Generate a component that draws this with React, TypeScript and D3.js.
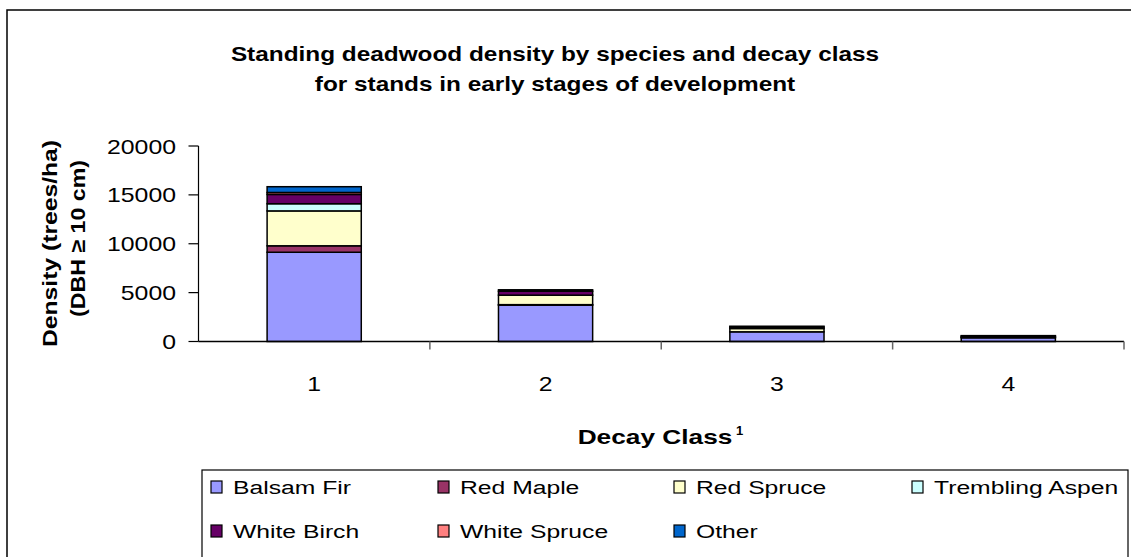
import React from "react";
import * as d3 from "d3";

const categories = ["1", "2", "3", "4"];
const species = ["Balsam Fir", "Red Maple", "Red Spruce", "Trembling Aspen", "White Birch", "White Spruce", "Other"];
const colors = ["#9999FF", "#993366", "#FFFFCC", "#CCFFFF", "#660066", "#FF8080", "#0066CC"];
const balsamFir = [9130, 3720, 990, 380];
const redMaple = [660, 50, 0, 0];
const redSpruce = [3570, 970, 340, 60];
const tremblingAspen = [735, 0, 0, 0];
const whiteBirch = [950, 400, 150, 100];
const whiteSpruce = [200, 0, 0, 0];
const other = [590, 150, 80, 60];
const yTicks = [0, 5000, 10000, 15000, 20000];

const seriesValues = [balsamFir, redMaple, redSpruce, tremblingAspen, whiteBirch, whiteSpruce, other];

export default function App() {
  const W = 1131, H = 557;
  const left = 198.5, right = 1124, top = 146, bottom = 341.5;
  const x = d3.scaleBand().domain(categories).range([left, right]).paddingInner(0.593).paddingOuter(0.2965);
  const y = d3.scaleLinear().domain([0, 20000]).range([bottom, top]);
  const rows = categories.map((c, i) => {
    const r: any = { cat: c };
    species.forEach((s, j) => (r[s] = seriesValues[j][i]));
    return r;
  });
  const stacked = d3.stack().keys(species)(rows);
  const font = "'Liberation Sans', Arial, sans-serif";
  const legendCols = [211, 438, 674, 912];
  const legendRows = [487, 531];
  return (
    <svg width={W} height={H} style={{ position: "absolute", left: 0, top: 0, background: "#fff" }} fontFamily={font}>
      <rect x={7} y={10} width={W} height={H} fill="#fff" stroke="#000" strokeWidth={1.5} />
      <g transform="translate(555,61) scale(1.16,1)">
        <text x={0} y={0} textAnchor="middle" fontWeight="bold" fontSize={21}>Standing deadwood density by species and decay class</text>
      </g>
      <g transform="translate(555,91) scale(1.16,1)">
        <text x={0} y={0} textAnchor="middle" fontWeight="bold" fontSize={21}>for stands in early stages of development</text>
      </g>
      {stacked.map((layer, j) => (
        <g key={j}>
          {layer.map((d, i) => {
            const h = y(d[0]) - y(d[1]);
            if (h <= 0) return null;
            return (
              <rect key={i} x={x(categories[i])} y={y(d[1])} width={x.bandwidth()} height={h}
                fill={colors[j]} stroke="#000" strokeWidth={1.5} />
            );
          })}
        </g>
      ))}
      <line x1={left} x2={left} y1={top} y2={bottom} stroke="#000" strokeWidth={1.2} />
      <line x1={left} x2={right} y1={bottom} y2={bottom} stroke="#000" strokeWidth={1.5} />
      {yTicks.map((t) => (
        <g key={t}>
          <line x1={left - 10} x2={left} y1={y(t)} y2={y(t)} stroke="#000" strokeWidth={1.2} />
          <text x={176} y={y(t)} dy="0.36em" textAnchor="end" fontSize={21}
            textLength={String(t).length * 13.8} lengthAdjust="spacingAndGlyphs">{t}</text>
        </g>
      ))}
      {categories.map((c, i) => (
        <g key={c}>
          <line x1={left + (i + 1) * x.step()} x2={left + (i + 1) * x.step()} y1={bottom} y2={bottom + 8} stroke="#666" strokeWidth={1.5} />
          <text x={(x(c) as number) + x.bandwidth() / 2} y={391} textAnchor="middle" fontSize={21} textLength={13.8} lengthAdjust="spacingAndGlyphs">{c}</text>
        </g>
      ))}
      <g transform="translate(655,444) scale(1.25,1)">
        <text x={0} y={0} textAnchor="middle" fontWeight="bold" fontSize={21}>Decay Class</text>
      </g>
      <text x={736} y={435} fontWeight="bold" fontSize={13}>1</text>
      <g transform="translate(57,243.5) rotate(-90)">
        <text x={0} y={0} textAnchor="middle" fontWeight="bold" fontSize={21} textLength={207} lengthAdjust="spacingAndGlyphs">Density (trees/ha)</text>
      </g>
      <g transform="translate(85,238.5) rotate(-90)">
        <text x={0} y={0} textAnchor="middle" fontWeight="bold" fontSize={21} textLength={157} lengthAdjust="spacingAndGlyphs">(DBH ≥ 10 cm)</text>
      </g>
      <rect x={202} y={470} width={926} height={120} fill="none" stroke="#000" strokeWidth={1.2} />
      {species.map((s, j) => {
        const cx = legendCols[j % 4];
        const cy = legendRows[Math.floor(j / 4)];
        return (
          <g key={s}>
            <rect x={cx} y={cy - 6} width={11} height={12} fill={colors[j]} stroke="#000" strokeWidth={1.2} />
            <g transform={`translate(${cx + 22},${cy}) scale(1.3,1)`}>
              <text x={0} y={0} dy="0.36em" fontSize={19}>{s}</text>
            </g>
          </g>
        );
      })}
    </svg>
  );
}
